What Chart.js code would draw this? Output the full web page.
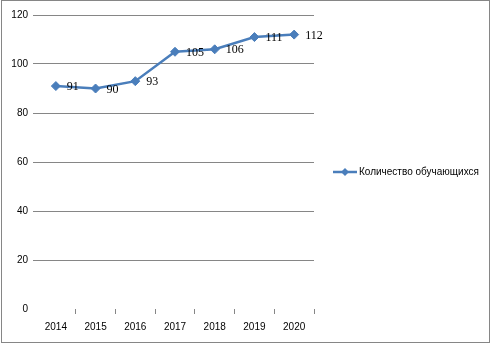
<!DOCTYPE html>
<html>
<head>
<meta charset="utf-8">
<script src="https://cdn.jsdelivr.net/npm/chart.js@4/dist/chart.umd.min.js"></script>
<style>
  html, body { margin: 0; padding: 0; background: #fff; }
  #wrap { width: 491px; height: 344px; }
</style>
</head>
<body>
<div id="wrap"><canvas id="lineChart" width="491" height="344"></canvas></div>
<script>
// chart data
const years = ["2014", "2015", "2016", "2017", "2018", "2019", "2020"];
const students = [91, 90, 93, 105, 106, 111, 112];
const seriesName = "Количество обучающихся";

const lineColor = "#4A7EBB";
const gridColor = "#868686";

// value labels next to each point
const valueLabels = {
  id: "valueLabels",
  afterDatasetsDraw(chart) {
    const ctx = chart.ctx;
    const meta = chart.getDatasetMeta(0);
    ctx.save();
    ctx.font = "12px 'Liberation Serif'";
    ctx.fillStyle = "#000";
    ctx.textAlign = "left";
    ctx.textBaseline = "middle";
    meta.data.forEach((pt, i) => {
      ctx.fillText(String(students[i]), pt.x + 11, pt.y + 1);
    });
    ctx.restore();
  },
};

// legend on the right + outer frame
const sideLegend = {
  id: "sideLegend",
  afterDraw(chart) {
    const ctx = chart.ctx;
    ctx.save();
    // frame
    ctx.strokeStyle = gridColor;
    ctx.lineWidth = 1;
    ctx.strokeRect(1.5, 0.5, 488, 342);

    // legend marker
    const y = 172;
    ctx.strokeStyle = lineColor;
    ctx.lineWidth = 2.5;
    ctx.beginPath();
    ctx.moveTo(333, y);
    ctx.lineTo(357, y);
    ctx.stroke();
    ctx.fillStyle = lineColor;
    ctx.beginPath();
    ctx.moveTo(345, y - 4);
    ctx.lineTo(349, y);
    ctx.lineTo(345, y + 4);
    ctx.lineTo(341, y);
    ctx.closePath();
    ctx.fill();

    // legend text
    ctx.font = "10px 'Liberation Sans'";
    ctx.fillStyle = "#000";
    ctx.textAlign = "left";
    ctx.textBaseline = "middle";
    ctx.fillText(seriesName, 359, y);
    ctx.restore();
  },
};

const chartCanvas = document.getElementById("lineChart").getContext("2d");
const lineChart = new Chart(chartCanvas, {
  type: "line",
  data: {
    labels: years,
    datasets: [
      {
        label: seriesName,
        data: students,
        borderColor: lineColor,
        backgroundColor: lineColor,
        borderWidth: 2.5,
        pointStyle: "rectRot",
        pointRadius: 4.5,
        pointBorderWidth: 1,
        pointBackgroundColor: lineColor,
        pointBorderColor: lineColor,
        tension: 0,
      },
    ],
  },
  options: {
    responsive: false,
    animation: false,
    layout: {
      padding: { top: 15, right: 177, bottom: 4, left: 0 },
    },
    scales: {
      x: {
        offset: true,
        border: { display: false },
        grid: {
          offset: true,
          drawOnChartArea: false,
          drawTicks: true,
          tickLength: 5,
          // no mark on the left edge
          color: (c) => (c.index === 0 ? "rgba(0,0,0,0)" : gridColor),
        },
        ticks: {
          color: "#000",
          font: { family: "Liberation Sans", size: 10 },
          padding: 7,
          maxRotation: 0,
        },
      },
      y: {
        min: 0,
        max: 120,
        border: { display: false },
        grid: {
          // the zero line is not drawn in the original
          color: (c) => (c.tick && c.tick.value === 0 ? "rgba(0,0,0,0)" : gridColor),
          tickLength: 3,
        },
        ticks: {
          stepSize: 20,
          color: "#000",
          font: { family: "Liberation Sans", size: 10 },
          padding: 5,
        },
        afterFit(scale) {
          scale.width = 36;
        },
      },
    },
    plugins: {
      legend: { display: false },
      tooltip: { enabled: false },
    },
  },
  plugins: [valueLabels, sideLegend],
});
</script>
</body>
</html>
